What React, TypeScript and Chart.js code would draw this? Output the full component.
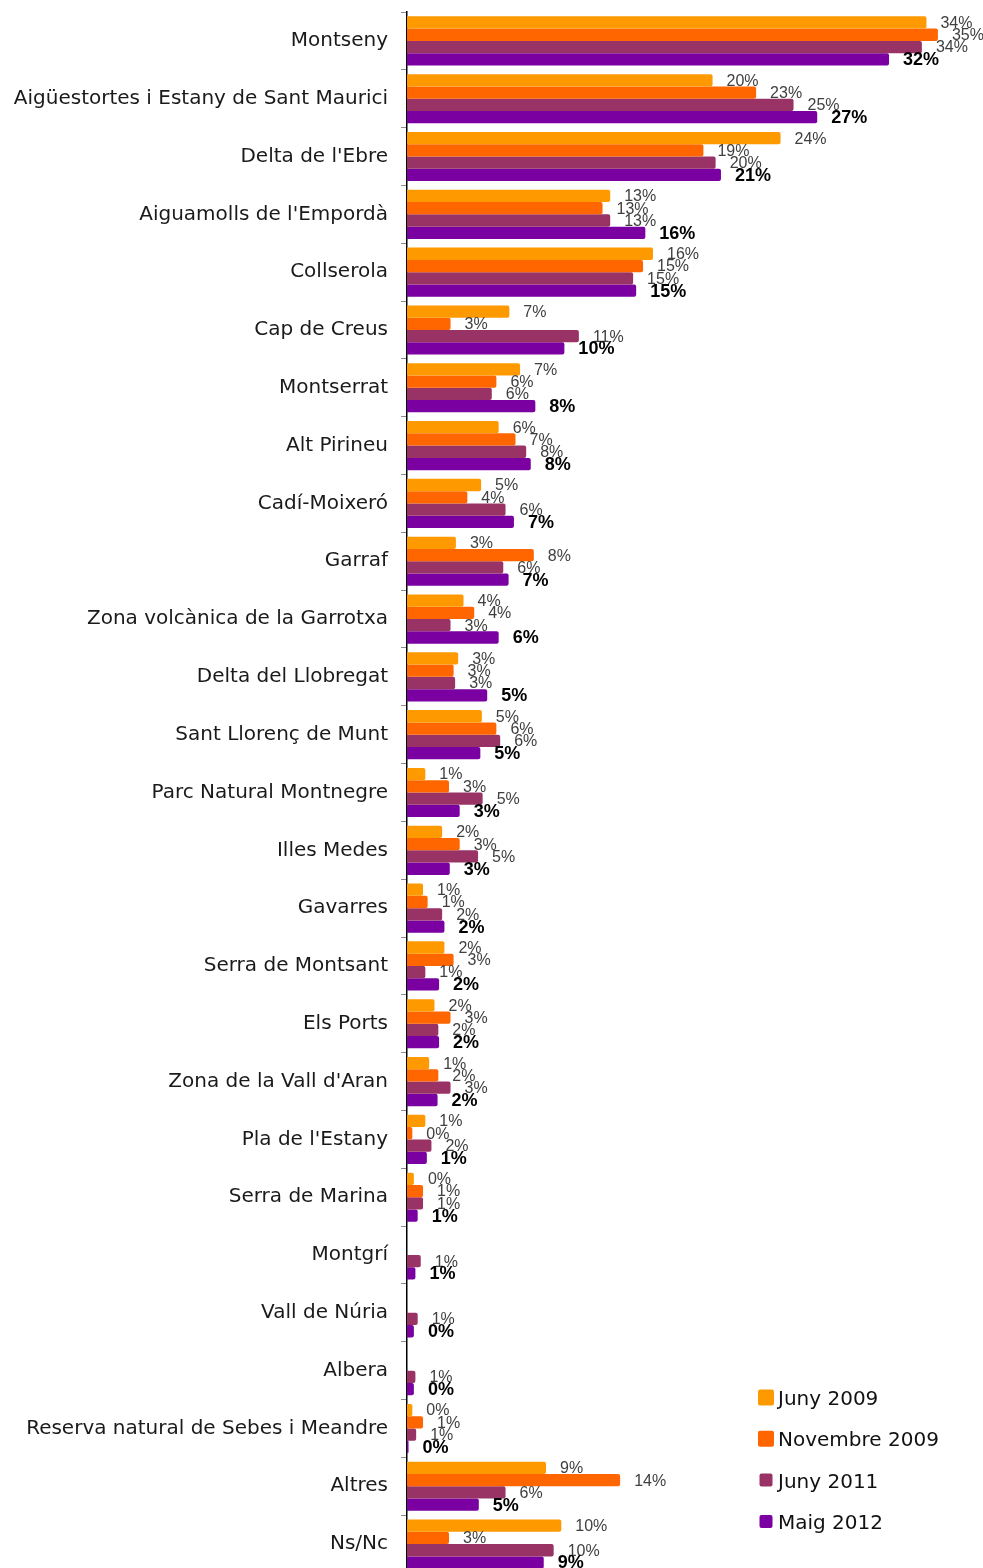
import React, { useEffect, useRef } from 'react';
import { Chart, registerables } from 'chart.js';

Chart.register(...registerables);

const categories = [
  'Montseny',
  'Aigüestortes i Estany de Sant Maurici',
  "Delta de l'Ebre",
  "Aiguamolls de l'Empordà",
  'Collserola',
  'Cap de Creus',
  'Montserrat',
  'Alt Pirineu',
  'Cadí-Moixeró',
  'Garraf',
  'Zona volcànica de la Garrotxa',
  'Delta del Llobregat',
  'Sant Llorenç de Munt',
  'Parc Natural Montnegre',
  'Illes Medes',
  'Gavarres',
  'Serra de Montsant',
  'Els Ports',
  "Zona de la Vall d'Aran",
  "Pla de l'Estany",
  'Serra de Marina',
  'Montgrí',
  'Vall de Núria',
  'Albera',
  'Reserva natural de Sebes i Meandre',
  'Altres',
  'Ns/Nc',
];

const seriesNames = ['Juny 2009', 'Novembre 2009', 'Juny 2011', 'Maig 2012'];

const juny2009 = [34.0, 20.0, 24.45, 13.3, 16.1, 6.7, 7.4, 6.0, 4.85, 3.2, 3.7, 3.35, 4.9, 1.2, 2.3, 1.05, 2.45, 1.8, 1.45, 1.2, 0.45, null, null, null, 0.35, 9.1, 10.1];
const novembre2009 = [34.75, 22.85, 19.4, 12.8, 15.45, 2.85, 5.85, 7.1, 3.95, 8.3, 4.4, 3.05, 5.85, 2.75, 3.45, 1.35, 3.05, 2.85, 2.05, 0.35, 1.05, null, null, null, 1.05, 13.95, 2.75];
const juny2011 = [33.7, 25.3, 20.2, 13.3, 14.8, 11.25, 5.55, 7.8, 6.45, 6.3, 2.85, 3.15, 6.1, 4.95, 4.65, 2.3, 1.2, 2.05, 2.85, 1.6, 1.05, 0.9, 0.7, 0.55, 0.6, 6.45, 9.6];
const maig2012 = [31.55, 26.85, 20.55, 15.6, 15.0, 10.3, 8.4, 8.1, 7.0, 6.65, 6.0, 5.25, 4.8, 3.45, 2.8, 2.45, 2.1, 2.1, 2.0, 1.3, 0.7, 0.55, 0.45, 0.45, 0.1, 4.7, 8.95];

const seriesData = [juny2009, novembre2009, juny2011, maig2012];
const colors = ['#FF9900', '#FF6600', '#993366', '#7B00A1'];

const CANVAS_W = 983;
const CANVAS_H = 1573;

const barLabelPlugin = {
  id: 'barLabels',
  afterDatasetsDraw(chart: any) {
    const ctx = chart.ctx;
    ctx.save();
    chart.data.datasets.forEach((ds: any, i: number) => {
      const meta = chart.getDatasetMeta(i);
      const bold = i === seriesNames.length - 1;
      ctx.font = bold ? 'bold 18px "Liberation Sans"' : '16px "Liberation Sans"';
      ctx.fillStyle = bold ? '#000000' : '#404040';
      ctx.textAlign = 'left';
      ctx.textBaseline = 'middle';
      meta.data.forEach((el: any, j: number) => {
        const v = ds.data[j];
        if (v === null || v === undefined) return;
        ctx.fillText(Math.round(v) + '%', el.x + 14, el.y + 1);
      });
    });
    ctx.restore();
  },
};

const legendBoxSizes = [16, 16, 13, 13];
const legendPlugin = {
  id: 'cornerLegend',
  afterDraw(chart: any) {
    const ctx = chart.ctx;
    ctx.save();
    const boxCx = 766;
    const textX = 778;
    const firstBaseline = 1405;
    const step = 41.3;
    chart.data.datasets.forEach((ds: any, i: number) => {
      const base = firstBaseline + i * step;
      const s = legendBoxSizes[i];
      const cy = base - 7.5;
      ctx.fillStyle = ds.backgroundColor;
      ctx.beginPath();
      ctx.roundRect(boxCx - s / 2, cy - s / 2, s, s, 2);
      ctx.fill();
      ctx.fillStyle = '#111111';
      ctx.font = '20px "DejaVu Sans"';
      ctx.textAlign = 'left';
      ctx.textBaseline = 'alphabetic';
      ctx.fillText(ds.label, textX, base);
    });
    ctx.restore();
  },
};

export default function App() {
  const ref = useRef<HTMLCanvasElement | null>(null);

  useEffect(() => {
    if (!ref.current) return;
    const chart = new Chart(ref.current, {
      type: 'bar',
      data: {
        labels: categories,
        datasets: seriesNames.map((name, i) => ({
          label: name,
          data: seriesData[i],
          backgroundColor: colors[i],
          categoryPercentage: 0.85,
          barPercentage: 1,
          borderRadius: 2,
          borderSkipped: 'start',
        })),
      },
      options: {
        indexAxis: 'y',
        animation: false,
        responsive: false,
        devicePixelRatio: 1,
        layout: { padding: { top: 12, bottom: 0, left: 0, right: 0 } },
        plugins: {
          legend: { display: false },
          tooltip: { enabled: false },
        },
        scales: {
          x: { display: false, min: 0, max: 37.7 },
          y: {
            afterFit: (s: any) => {
              s.width = 407;
              s.paddingTop = 0;
              s.paddingBottom = 0;
            },
            grid: { drawOnChartArea: false, tickLength: 6, color: '#8c8c8c', offset: true },
            border: { color: '#000000', width: 1.5 },
            ticks: {
              padding: 13,
              color: '#1a1a1a',
              autoSkip: false,
              font: { family: 'DejaVu Sans', size: 20 },
            },
          },
        },
      } as any,
      plugins: [barLabelPlugin, legendPlugin],
    });
    return () => chart.destroy();
  }, []);

  return (
    <div
      style={{
        position: 'absolute',
        left: 0,
        top: 0,
        width: CANVAS_W,
        height: 1568,
        overflow: 'hidden',
        background: '#ffffff',
      }}
    >
      <canvas ref={ref} width={CANVAS_W} height={CANVAS_H} style={{ display: 'block' }} />
    </div>
  );
}
